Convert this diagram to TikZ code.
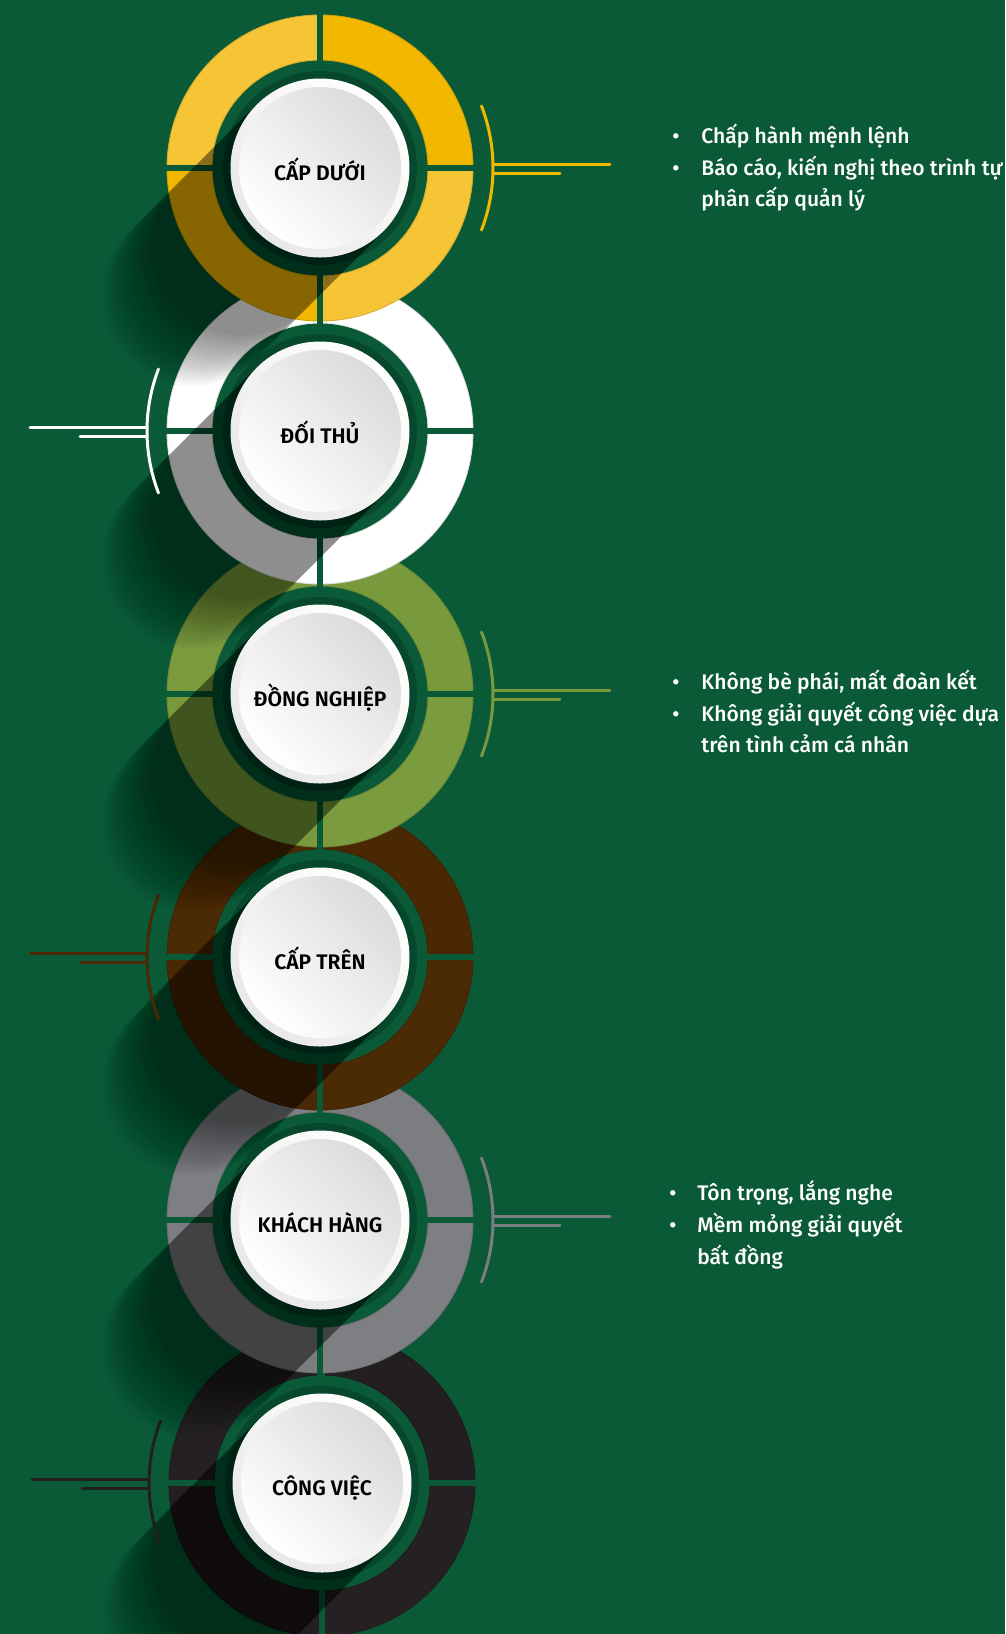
\documentclass[tikz,border=0pt]{standalone}
\usepackage{fontspec}
\usepackage{tikz}
\usetikzlibrary{calc}

\IfFontExistsTF{Fira Sans SemiBold}
  {\newfontfamily\labfont{Fira Sans SemiBold}}
  {\newfontfamily\labfontbase{Fira Sans}\newcommand\labfont{\labfontbase\bfseries}}
\IfFontExistsTF{Fira Sans Medium}
  {\newfontfamily\txtfont{Fira Sans Medium}}
  {\newfontfamily\txtfont{Fira Sans}}

\definecolor{bgc}{HTML}{0A5A38}
\definecolor{halo}{HTML}{07472C}
\definecolor{ylA}{HTML}{F6C535}
\definecolor{ylB}{HTML}{F2B800}
\definecolor{whA}{HTML}{FFFFFF}
\definecolor{whB}{HTML}{FFFFFF}
\definecolor{grnA}{HTML}{7B9B3F}
\definecolor{grnB}{HTML}{789A3C}
\definecolor{brA}{HTML}{4B2A06}
\definecolor{brB}{HTML}{4A2804}
\definecolor{gyA}{HTML}{7E7F83}
\definecolor{gyB}{HTML}{7C7D81}
\definecolor{bkA}{HTML}{252122}
\definecolor{bkB}{HTML}{231F20}

\begin{document}
\begin{tikzpicture}[x=0.02cm,y=0.02cm,
    lab/.style={font=\labfont\fontsize{12}{14}\selectfont,text=black,anchor=base,inner sep=0pt},
    itm/.style={font=\txtfont\fontsize{12}{18}\selectfont,text=white,anchor=base west,inner sep=0pt},
    deco/.style={line width=1.7pt,line cap=round},
    gap/.style={bgc,line width=2.9pt}]
  \useasboundingbox (0,0) rectangle (1005,-1634);
  \clip (0,0) rectangle (1005,-1634);
  \fill[bgc] (0,0) rectangle (1005,-1634);
  % Circles, drawn from the bottom one up so each overlaps the next
  \foreach \i/\cx/\cy/\lite/\dark/\side/\lab in {
      6/322/1483/bkA/bkB/-1/CÔNG VIỆC,
      5/320/1220/gyA/gyB/1/KHÁCH HÀNG,
      4/320/957/brA/brB/-1/CẤP TRÊN,
      3/320/694/grnA/grnB/1/ĐỒNG NGHIỆP,
      2/320/431/whA/whB/-1/ĐỐI THỦ,
      1/320/168/ylA/ylB/1/CẤP DƯỚI}{
    \coordinate (c\i) at (\cx,-\cy);
    \begin{scope}[shift={(c\i)}]
      % ring quadrants
      \foreach \a/\col in {0/\dark,90/\lite,180/\dark,270/\lite}
        \filldraw[fill=\col,draw=\col!88!black,line width=0.5pt] (\a:108) arc[start angle=\a,delta angle=90,radius=108]
          -- ({\a+90}:153) arc[start angle={\a+90},delta angle=-90,radius=153] -- cycle;
      \draw[gap] (0,104) -- (0,157) (0,-104) -- (0,-157) (104,0) -- (157,0) (-104,0) -- (-157,0);
      % halo and long shadow
      \fill[halo] (0,0) circle (97);
      \foreach \L in {110,114,...,182}
        \fill[black,opacity=0.028] (135:89.5) -- ($(225:\L)+(135:89.5)$)
          arc[start angle=135,end angle=315,radius=89.5] -- (315:89.5) -- cycle;
      % button
      \shade[top color=white,bottom color=black!9,shading angle=-45] (0,0) circle (89.5);
      \shade[top color=black!14,bottom color=white,shading angle=-45] (0,0) circle (81);
      % side marker
      \draw[deco,\dark] ({90-90*(\side)-21}:173) arc[start angle={90-90*(\side)-21},delta angle=42,radius=173];
      \draw[deco,\dark] ({173*(\side)},4) -- ({290*(\side)},4) ({173*(\side)},-5) -- ({240*(\side)},-5);
    \end{scope}
    \node[lab] (l\i) at ($(c\i)+(0,-12)$) {\lab};
  }
  % Bullet lists
  \node[itm] (b1a) at (672,-143) {•};
  \node[itm] (b1b) at (672,-175) {•};
  \node[itm] (t1a) at (701,-143) {Chấp hành mệnh lệnh};
  \node[itm] (t1b) at (701,-175) {Báo cáo, kiến nghị theo trình tự};
  \node[itm] (t1c) at (701,-206) {phân cấp quản lý};
  \node[itm] (b3a) at (672,-689) {•};
  \node[itm] (b3b) at (672,-721) {•};
  \node[itm] (t3a) at (701,-689) {Không bè phái, mất đoàn kết};
  \node[itm] (t3b) at (701,-721) {Không giải quyết công việc dựa};
  \node[itm] (t3c) at (701,-752) {trên tình cảm cá nhân};
  \node[itm] (b5a) at (669,-1200) {•};
  \node[itm] (b5b) at (669,-1232) {•};
  \node[itm] (t5a) at (697,-1200) {Tôn trọng, lắng nghe};
  \node[itm] (t5b) at (697,-1232) {Mềm mỏng giải quyết};
  \node[itm] (t5c) at (697,-1264) {bất đồng};
\end{tikzpicture}
\end{document}
